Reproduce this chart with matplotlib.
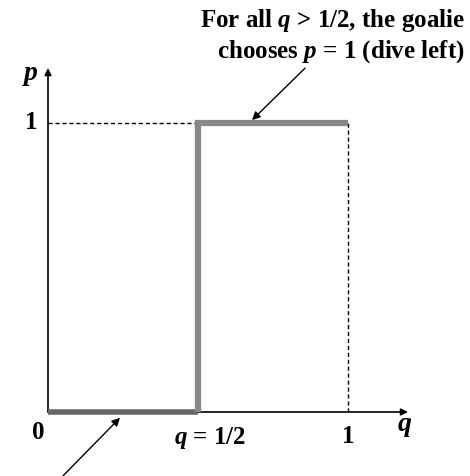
import matplotlib
matplotlib.use("Agg")
import matplotlib.pyplot as plt

# best response of the goalie: p as a function of q
q_pts = [0.0, 0.5, 0.5, 1.0]
p_pts = [0.0, 0.0, 1.0, 1.0]
q_half = 0.5
q_one = 1.0

plt.rcParams["font.family"] = ["Liberation Serif", "DejaVu Serif"]
plt.rcParams["font.weight"] = "bold"
plt.rcParams["mathtext.fontset"] = "custom"
plt.rcParams["mathtext.it"] = "Liberation Serif:italic:bold"
plt.rcParams["mathtext.rm"] = "Liberation Serif:bold"

fig = plt.figure(figsize=(4.70, 4.76), dpi=100)
ax = fig.add_axes([0, 0, 1, 1])
ax.set_xlim(-0.16, 1.4067)
ax.set_ylim(-0.2215, 1.4256)
ax.axis("off")

GRAY = "#888888"
FS = 18

# axes arrows
ax.annotate("", xy=(0, 1.19), xytext=(0, 0),
            arrowprops=dict(arrowstyle="-|>", color="black", lw=1.2,
                            mutation_scale=10, shrinkA=0, shrinkB=0))
ax.annotate("", xy=(1.2, 0), xytext=(0, 0),
            arrowprops=dict(arrowstyle="-|>", color="black", lw=1.2,
                            mutation_scale=10, shrinkA=0, shrinkB=0))

# dashed guides
ax.plot([0, q_half], [1, 1], color="black", lw=1, ls=(0, (3, 2)))
ax.plot([q_one, q_one], [0, 1], color="black", lw=1, ls=(0, (3, 2)))

# best-response line
ax.plot(q_pts[:2], p_pts[:2], color="#666666", lw=4, solid_capstyle="butt", zorder=3)
ax.plot(q_pts[1:], p_pts[1:], color=GRAY, lw=4.5, solid_joinstyle="miter",
        solid_capstyle="butt", zorder=3)

# labels
ax.text(-0.057, 1.166, "$p$", fontsize=FS + 2, ha="center", va="center")
ax.text(-0.057, 1.0, "1", fontsize=FS, ha="center", va="center")
ax.text(-0.033, -0.07, "0", fontsize=FS, ha="center", va="center")
ax.text(q_half + 0.04, -0.09, "$q$ = 1/2", fontsize=FS, ha="center", va="center")
ax.text(q_one, -0.085, "1", fontsize=FS, ha="center", va="center")
ax.text(1.19, -0.05, "$q$", fontsize=FS + 2, ha="center", va="center")

ax.text(1.39, 1.30, "For all $q$ > 1/2, the goalie\nchooses $p$ = 1 (dive left)",
        fontsize=FS, ha="right", va="center", linespacing=1.2)

# pointer arrows
ax.annotate("", xy=(0.68, 1.01), xytext=(0.857, 1.19),
            arrowprops=dict(arrowstyle="-|>", color="black", lw=1,
                            mutation_scale=12, shrinkA=0, shrinkB=0))
ax.annotate("", xy=(0.24, -0.02), xytext=(0.05, -0.221),
            arrowprops=dict(arrowstyle="-|>", color="black", lw=1,
                            mutation_scale=12, shrinkA=0, shrinkB=0))

fig.savefig("out.png", dpi=100)
